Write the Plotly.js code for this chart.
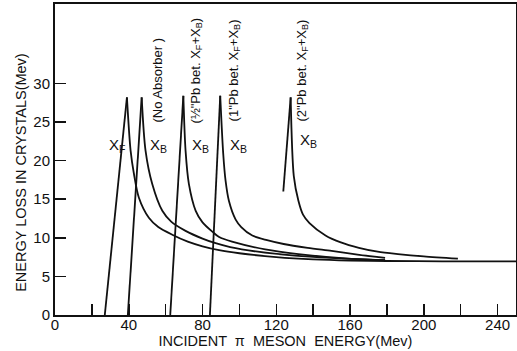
<!DOCTYPE html>
<html>
<head>
<meta charset="utf-8">
<script src="https://cdn.plot.ly/plotly-3.0.1.min.js"></script>
<style>html,body{margin:0;padding:0;background:#fff;}#chart{width:517px;height:351px;}</style>
</head>
<body>
<div id="chart"></div>
<script>
// X_F (front crystal)
const xfRiseX = [27, 39];
const xfRiseY = [0, 28.2];
const xfDecayX = [39, 41, 42.8, 45.5, 50.9, 56, 63.6, 72, 80, 89, 100, 120, 140, 160, 180, 210, 250];
const xfDecayY = [28.2, 21.3, 18.3, 15.2, 12.6, 11.4, 10.4, 9.5, 8.9, 8.4, 8.0, 7.5, 7.2, 7.05, 7.0, 6.95, 6.95];
// X_B, no absorber
const naRiseX = [39.5, 47];
const naRiseY = [0, 28.2];
const naDecayX = [47, 49.1, 52.7, 58.2, 63, 70.8, 80, 87.1, 95, 110, 130, 150, 179];
const naDecayY = [28.2, 21.3, 17, 13.5, 12.1, 10.9, 9.9, 9.3, 8.8, 8.2, 7.7, 7.4, 7.1];
// X_B, 1/2" Pb
const hRiseX = [62.5, 69.6];
const hRiseY = [0, 28.4];
const hDecayX = [69.6, 70.8, 72.6, 76.3, 80, 85.3, 89, 96, 114, 132, 159, 179];
const hDecayY = [28.4, 21.3, 17, 13.5, 12.0, 10.8, 10.1, 9.5, 8.5, 7.9, 7.3, 7.1];
// X_B, 1" Pb
const oRiseX = [84, 89.6];
const oRiseY = [0, 28.4];
const oDecayX = [89.6, 91.2, 92.5, 94.3, 97.9, 101, 107, 115, 124, 137, 150, 165, 179];
const oDecayY = [28.4, 21, 17.4, 14.8, 12.4, 11.4, 10.3, 9.7, 9.2, 8.7, 8.3, 7.8, 7.4];
// X_B, 2" Pb
const tRiseX = [123.8, 127.8];
const tRiseY = [16, 28.2];
const tDecayX = [127.8, 129.5, 132, 134.5, 138, 146.7, 155, 164.8, 175, 186, 200, 218.5];
const tDecayY = [28.2, 18, 14.8, 13.0, 11.9, 10.3, 9.4, 8.7, 8.2, 7.9, 7.6, 7.3];

const xTickVals = [0, 40, 80, 120, 160, 200, 240];
const xTickText = ['0', '40', '80', '120', '160', '200', '240'];
const yTickVals = [0, 5, 10, 15, 20, 25, 30];
const yTickText = ['0', '5', '10', '15', '20', '25', '30'];

const FONT = 'Liberation Sans, Arial, sans-serif';
const line = {color: '#111', width: 1.8};
function rise(x, y) { return {x: x, y: y, mode: 'lines', line: line, showlegend: false, hoverinfo: 'skip'}; }
function decay(x, y) { return {x: x, y: y, mode: 'lines', line: Object.assign({shape: 'spline', smoothing: 0.8}, line), showlegend: false, hoverinfo: 'skip'}; }

const data = [
  rise(xfRiseX, xfRiseY), decay(xfDecayX, xfDecayY),
  rise(naRiseX, naRiseY), decay(naDecayX, naDecayY),
  rise(hRiseX, hRiseY), decay(hDecayX, hDecayY),
  rise(oRiseX, oRiseY), decay(oDecayX, oDecayY),
  rise(tRiseX, tRiseY), decay(tDecayX, tDecayY)
];

function lab(x, y, text) {
  return {x: x, y: y, xref: 'x', yref: 'y', text: text, showarrow: false,
    xanchor: 'left', yanchor: 'middle', font: {family: FONT, size: 15, color: '#111'}};
}
function rot(x, y, text) {
  return {x: x, y: y, xref: 'x', yref: 'y', text: text, showarrow: false, textangle: -90,
    xanchor: 'center', yanchor: 'middle', font: {family: FONT, size: 13, color: '#111'}};
}

const layout = {
  width: 517, height: 351,
  margin: {l: 55, r: 1, t: 4, b: 36},
  paper_bgcolor: '#fff', plot_bgcolor: '#fff',
  font: {family: FONT, color: '#111'},
  xaxis: {
    range: [0, 250], tickvals: xTickVals, ticktext: xTickText,
    ticks: 'inside', ticklen: 11, tickwidth: 1.5, tickcolor: '#111',
    minor: {dtick: 20, tick0: 0, ticks: 'inside', ticklen: 11, tickwidth: 1.5, tickcolor: '#111', showgrid: false},
    ticklabelstandoff: -5,
    showline: true, linewidth: 2, linecolor: '#111', mirror: true,
    showgrid: false, zeroline: false,
    tickfont: {family: FONT, size: 15, color: '#111'},
    title: {text: 'INCIDENT  π  MESON  ENERGY(Mev)', font: {family: FONT, size: 14.5, color: '#111'}, standoff: 2}
  },
  yaxis: {
    range: [0, 40.3], tickvals: yTickVals, ticktext: yTickText,
    ticks: 'inside', ticklen: 11, tickwidth: 1.5, tickcolor: '#111',
    showline: true, linewidth: 2, linecolor: '#111', mirror: true,
    showgrid: false, zeroline: false,
    tickfont: {family: FONT, size: 15, color: '#111'}
  },
  annotations: [
    {x: -0.074, y: 0.46, xref: 'paper', yref: 'paper', text: 'ENERGY LOSS IN CRYSTALS(Mev)', textangle: -90,
     showarrow: false, xanchor: 'center', yanchor: 'middle', font: {family: FONT, size: 14.5, color: '#111'}},
    lab(28.2, 22.0, 'X<sub>F</sub>'),
    lab(50.4, 22.0, 'X<sub>B</sub>'),
    lab(73.2, 22.0, 'X<sub>B</sub>'),
    lab(93.6, 22.0, 'X<sub>B</sub>'),
    lab(132.0, 22.6, 'X<sub>B</sub>'),
    rot(55.4, 30.4, '(No Absorber )'),
    rot(76.5, 31.7, '(½"Pb bet. X<sub>F</sub>+X<sub>B</sub>)'),
    rot(97.1, 31.7, '(1"Pb bet. X<sub>F</sub>+X<sub>B</sub>)'),
    rot(134.0, 31.7, '(2"Pb bet. X<sub>F</sub>+X<sub>B</sub>)')
  ]
};

Plotly.newPlot('chart', data, layout, {displayModeBar: false, staticPlot: true});
</script>
</body>
</html>
